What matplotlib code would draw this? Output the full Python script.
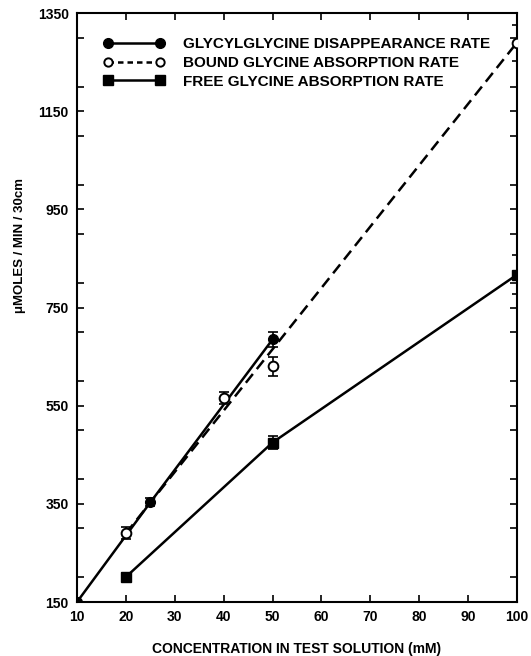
import matplotlib
matplotlib.use("Agg")
import matplotlib.pyplot as plt
from matplotlib.ticker import MultipleLocator

plt.rcParams['font.family'] = ['Liberation Sans', 'DejaVu Sans']
plt.rcParams['font.weight'] = 'bold'

# Data
glygly_x = [10, 25, 50]
glygly_y = [150, 353, 685]
glygly_err = [0, 8, 15]

bound_x = [20, 40, 50, 100]
bound_y = [290, 565, 630, 1289]
bound_err = [12, 12, 20, 36]

bound_fit_x = [20, 100]
bound_fit_y = [290, 1290]

free_x = [20, 50, 100]
free_y = [201, 475, 817]
free_err = [8, 14, 40]

x_ticks = [10, 20, 30, 40, 50, 60, 70, 80, 90, 100]
y_ticks = [150, 350, 550, 750, 950, 1150, 1350]

labels = ["GLYCYLGLYCINE DISAPPEARANCE RATE",
          "BOUND GLYCINE ABSORPTION RATE",
          "FREE GLYCINE ABSORPTION RATE"]

fig = plt.figure(figsize=(5.31, 6.56), dpi=100)
ax = fig.add_axes([0.145, 0.0823, 0.9736 - 0.145, 0.980 - 0.0823])

lw = 1.8
# Glycylglycine
ax.errorbar(glygly_x, glygly_y, yerr=glygly_err, fmt='none', ecolor='black',
            elinewidth=1.2, capsize=3.5, capthick=1.2, zorder=4)
ax.plot(glygly_x, glygly_y, '-', color='black', lw=lw, zorder=3)
ax.plot(glygly_x, glygly_y, 'o', color='black', ms=7, zorder=5)

# Bound glycine
ax.plot(bound_fit_x, bound_fit_y, color='black', lw=lw, dashes=(4.5, 2.5), zorder=3)
ax.errorbar(bound_x, bound_y, yerr=bound_err, fmt='none', ecolor='black',
            elinewidth=1.2, capsize=3.5, capthick=1.2, zorder=4)
ax.plot(bound_x, bound_y, 'o', mfc='white', mec='black', mew=1.4, ms=7, zorder=5)

# Free glycine
ax.errorbar(free_x, free_y, yerr=free_err, fmt='none', ecolor='black',
            elinewidth=1.2, capsize=3.5, capthick=1.2, zorder=4)
ax.plot(free_x, free_y, '-', color='black', lw=lw, zorder=3)
ax.plot(free_x, free_y, 's', color='black', ms=7, zorder=5)

# Legend handles
h1, = ax.plot([], [], '-o', color='black', lw=lw, ms=7)
h2, = ax.plot([], [], color='black', lw=lw, dashes=(2.2, 1.6), marker='o',
              mfc='white', mec='black', mew=1.4, ms=6)
h3, = ax.plot([], [], '-s', color='black', lw=lw, ms=6.5)
leg = ax.legend([h1, h2, h3], labels, loc='upper left', bbox_to_anchor=(0.035, 0.977),
                frameon=False, numpoints=2, handlelength=4.0, handletextpad=1.2,
                labelspacing=0.3, borderaxespad=0.3,
                prop={'size': 11, 'weight': 'bold'})

ax.set_xlim(10, 100)
ax.set_ylim(150, 1350)
ax.set_xticks(x_ticks)
ax.set_xticklabels([str(v) for v in x_ticks])
ax.set_yticks(y_ticks)
ax.set_yticklabels([str(v) for v in y_ticks])
ax.yaxis.set_minor_locator(MultipleLocator(100))
ax.tick_params(axis='both', which='both', direction='in', top=True, right=True,
               length=5, width=1.2, labelsize=10, pad=6)
for lab in ax.get_xticklabels() + ax.get_yticklabels():
    lab.set_fontweight('bold')
for s in ax.spines.values():
    s.set_linewidth(1.5)

ax.set_xlabel("CONCENTRATION IN TEST SOLUTION (mM)", fontsize=10, fontweight='bold',
              labelpad=13)
ax.set_ylabel("\u03bcMOLES / MIN / 30cm", fontsize=9.5, fontweight='bold')
ax.yaxis.set_label_coords(-0.115, 0.606)

fig.savefig("out.png", dpi=100)
